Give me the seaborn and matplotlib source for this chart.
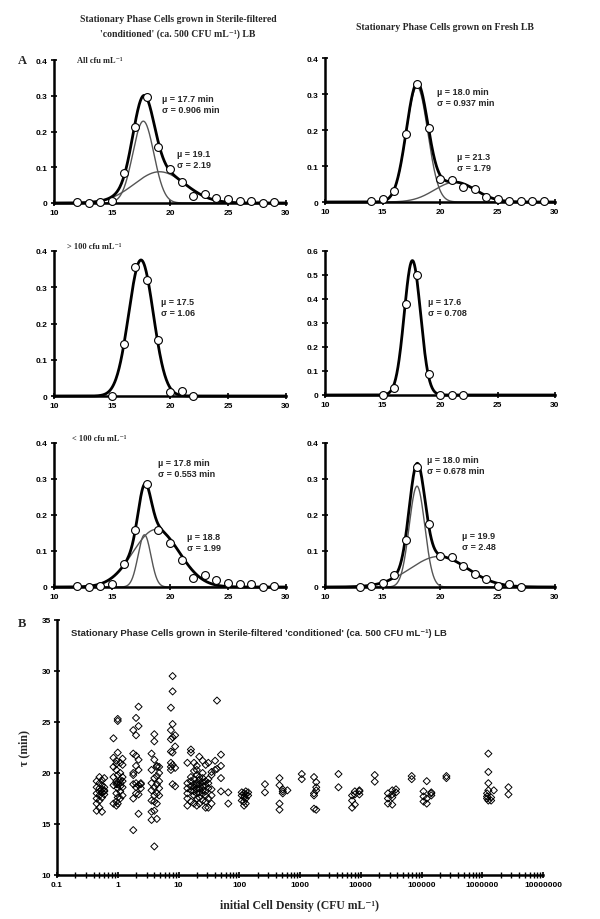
import numpy as np
import pandas as pd
import seaborn as sns
import matplotlib
matplotlib.use("Agg")
import matplotlib.pyplot as plt
from matplotlib.ticker import FixedLocator, FuncFormatter, LogLocator, NullFormatter

# ---------------- data: panel A (frequency distributions of lag time) ----------------
tau_bins_1 = [12, 13, 14, 15, 16, 17, 18, 19, 20, 21, 22, 23, 24, 25, 26, 27, 28, 29]
freq_1 = [0.003, 0.0, 0.003, 0.005, 0.085, 0.212, 0.296, 0.158, 0.095, 0.060, 0.020, 0.025,
          0.015, 0.010, 0.005, 0.005, 0.0, 0.003]
tau_bins_2 = [14, 15, 16, 17, 18, 19, 20, 21, 22, 23, 24, 25, 26, 27, 28, 29]
freq_2 = [0.003, 0.008, 0.030, 0.190, 0.327, 0.205, 0.065, 0.060, 0.042, 0.035, 0.013,
          0.008, 0.004, 0.002, 0.002, 0.002]
tau_bins_3 = [15, 16, 17, 18, 19, 20, 21, 22]
freq_3 = [0.0, 0.143, 0.357, 0.320, 0.155, 0.012, 0.013, 0.0]
tau_bins_4 = [15, 16, 17, 18, 19, 20, 21, 22]
freq_4 = [0.0, 0.028, 0.380, 0.500, 0.088, 0.0, 0.0, 0.0]
tau_bins_5 = [12, 13, 14, 15, 16, 17, 18, 19, 20, 21, 22, 23, 24, 25, 26, 27, 28, 29]
freq_5 = [0.003, 0.0, 0.003, 0.008, 0.063, 0.158, 0.285, 0.157, 0.122, 0.076, 0.025, 0.034,
          0.020, 0.012, 0.008, 0.008, 0.0, 0.003]
tau_bins_6 = [13, 14, 15, 16, 17, 18, 19, 20, 21, 22, 23, 24, 25, 26, 27]
freq_6 = [0.0, 0.002, 0.010, 0.032, 0.131, 0.333, 0.174, 0.086, 0.083, 0.058, 0.037,
          0.023, 0.004, 0.007, 0.0]

# fitted Gaussian components (mean, sd, weight)
fit_mu_1, fit_sd_1, fit_w_1 = [17.7, 19.1], [0.906, 2.19], [0.52, 0.48]
fit_mu_2, fit_sd_2, fit_w_2 = [18.0, 21.3], [0.937, 1.79], [0.753, 0.247]
fit_mu_3, fit_sd_3, fit_w_3 = [17.5], [1.06], [0.997]
fit_mu_4, fit_sd_4, fit_w_4 = [17.6], [0.708], [0.994]
fit_mu_5, fit_sd_5, fit_w_5 = [17.8, 18.8], [0.553, 1.99], [0.201, 0.798]
fit_mu_6, fit_sd_6, fit_w_6 = [18.0, 19.9], [0.678, 2.48], [0.476, 0.528]

labels_1 = ["\u00b5 = 17.7 min\n\u03c3 = 0.906 min", "\u00b5 = 19.1\n\u03c3 = 2.19"]
labels_2 = ["\u00b5 = 18.0 min\n\u03c3 = 0.937 min", "\u00b5 = 21.3\n\u03c3 = 1.79"]
labels_3 = ["\u00b5 = 17.5\n\u03c3 = 1.06"]
labels_4 = ["\u00b5 = 17.6\n\u03c3 = 0.708"]
labels_5 = ["\u00b5 = 17.8 min\n\u03c3 = 0.553 min", "\u00b5 = 18.8\n\u03c3 = 1.99"]
labels_6 = ["\u00b5 = 18.0 min\n\u03c3 = 0.678 min", "\u00b5 = 19.9\n\u03c3 = 2.48"]

subset_labels = ["All cfu mL\u207b\u00b9", "> 100 cfu mL\u207b\u00b9", "< 100 cfu mL\u207b\u00b9"]
col_titles = ["Stationary Phase Cells grown in Sterile-filtered\n'conditioned' (ca. 500 CFU mL\u207b\u00b9) LB",
              "Stationary Phase Cells grown on Fresh LB"]

# ---------------- data: panel B (lag time vs initial density) ----------------
density_groups = [0.45, 0.5, 0.55, 0.6, 0.85, 0.95, 1.0, 1.1, 1.2, 1.8, 2.0, 2.2, 2.4,
                  3.6, 4.0, 4.4, 4.8, 7.5, 8.0, 8.8, 14, 16, 18, 20, 22, 25, 28, 31, 35,
                  40, 43, 50, 66, 110, 120, 128, 140, 265, 460, 520, 620, 1070, 1700,
                  1850, 4300, 7200, 8000, 9500, 17000, 28000, 33000, 38000, 69000,
                  108000, 122000, 145000, 257000, 1.2e6, 1.26e6, 1.4e6, 1.55e6, 2.7e6]
tau_groups = [
    [16.3, 17.0, 17.5, 18.0, 18.6, 19.2],
    [16.6, 17.3, 17.8, 18.2, 18.5, 19.0, 19.6],
    [16.2, 17.6, 18.1, 18.4, 18.8, 19.3],
    [17.9, 18.3, 18.6, 19.5, 18.2],
    [17.0, 18.8, 19.6, 20.6, 21.5, 23.4],
    [16.8, 17.2, 18.0, 18.9, 19.2, 20.3, 20.9, 21.2],
    [17.0, 17.6, 18.5, 18.9, 19.1, 19.8, 22.0, 25.1, 25.3],
    [17.5, 18.2, 18.7, 19.0, 19.3, 20.0, 21.0],
    [17.8, 18.6, 19.2, 19.6, 20.8, 21.4],
    [14.4, 17.5, 18.9, 19.8, 20.0, 21.9, 24.2],
    [18.0, 18.6, 19.0, 20.7, 21.7, 23.7, 25.4],
    [16.0, 17.9, 18.8, 20.3, 21.3, 24.6, 26.5],
    [18.5, 18.9, 19.0],
    [15.4, 16.2, 17.3, 18.3, 19.0, 20.3, 21.9],
    [12.8, 16.3, 17.2, 17.8, 18.6, 19.5, 21.3, 23.1, 23.8],
    [15.5, 17.0, 18.0, 18.9, 19.7, 20.6, 20.7],
    [17.8, 18.5, 19.2, 20.0, 20.6],
    [20.3, 20.6, 21.0, 22.1, 23.3, 24.2, 26.4],
    [18.9, 20.8, 22.0, 23.5, 24.8, 28.0, 29.5],
    [18.7, 20.5, 22.6, 23.7],
    [16.8, 17.5, 18.0, 18.5, 19.0, 21.0],
    [17.2, 18.3, 18.7, 19.2, 19.6, 22.0, 22.3],
    [17.0, 17.8, 18.2, 18.6, 18.9, 19.4, 20.2, 21.0],
    [16.8, 17.5, 18.0, 18.4, 18.8, 19.0, 19.8, 20.3, 20.7],
    [17.0, 17.6, 18.1, 18.5, 18.9, 19.3, 19.6, 21.6],
    [17.3, 18.0, 18.3, 18.7, 19.1, 19.5, 20.0, 21.2],
    [16.6, 17.2, 17.8, 18.2, 18.8, 19.2, 20.8],
    [16.6, 17.5, 18.5, 19.0, 19.4, 21.0],
    [17.0, 17.8, 18.4, 19.8, 20.1],
    [20.3, 21.2],
    [27.1, 20.4],
    [18.2, 19.5, 20.7, 21.8],
    [17.0, 18.1],
    [17.3, 17.8, 18.1],
    [16.8, 17.2, 17.6, 18.0],
    [17.0, 17.5, 17.9, 18.2],
    [17.8, 18.1],
    [18.1, 18.9],
    [16.4, 17.0, 18.8, 19.5],
    [18.0, 18.4, 18.2],
    [18.3],
    [19.4, 19.9],
    [19.6, 18.0, 17.8, 16.5],
    [18.6, 18.3, 16.4, 19.1],
    [19.9, 18.6],
    [17.3, 16.6, 17.8],
    [17.9, 16.9, 18.2],
    [18.2, 18.3, 17.9],
    [19.8, 19.15],
    [18.0, 17.5, 17.0],
    [18.3, 17.9, 16.9, 17.6],
    [18.4, 18.1],
    [19.7, 19.4],
    [18.2, 17.7, 17.2],
    [19.2, 17.0, 17.5],
    [18.0, 17.8, 18.1],
    [19.7, 19.5],
    [18.0, 17.7, 17.5],
    [21.9, 20.1, 19.0, 18.3, 17.3],
    [17.6, 17.3],
    [18.3],
    [18.6, 17.9],
]
b_xticks = [0.1, 1, 10, 100, 1000, 10000, 100000, 1000000, 10000000]
b_xticklabels = ["0.1", "1", "10", "100", "1000", "10000", "100000", "1000000", "10000000"]
b_yticks = [10, 15, 20, 25, 30, 35]
b_title = "Stationary Phase Cells grown in Sterile-filtered 'conditioned' (ca. 500 CFU mL\u207b\u00b9) LB"
b_xlabel = "initial Cell Density (CFU mL\u207b\u00b9)"
b_ylabel = "\u03c4 (min)"

# ---------------- style ----------------
sns.set_style("ticks")
plt.rcParams["font.family"] = ["Liberation Sans", "DejaVu Sans"]
plt.rcParams["font.weight"] = "bold"
SERIF = ["Liberation Serif", "DejaVu Serif"]

fig = plt.figure(figsize=(6, 9.2), dpi=100)
W, H = 600.0, 920.0


def add_ax(x0, x1, y0, y1):
    return fig.add_axes([x0 / W, 1 - y1 / H, (x1 - x0) / W, (y1 - y0) / H])


def style_axes(ax):
    for s in ["top", "right"]:
        ax.spines[s].set_visible(False)
    for s in ["left", "bottom"]:
        ax.spines[s].set_linewidth(1.8)
        ax.spines[s].set_color("black")
    ax.tick_params(axis="both", which="both", direction="inout", length=5, width=1.2,
                   labelsize=6, pad=2, colors="black")
    for lab in ax.get_xticklabels() + ax.get_yticklabels():
        lab.set_fontweight("bold")


def gauss(x, mu, sd, w):
    return w / (sd * np.sqrt(2 * np.pi)) * np.exp(-0.5 * ((x - mu) / sd) ** 2)


panels = [
    dict(box=(54, 286, 61, 204), bins=tau_bins_1, freq=freq_1, mu=fit_mu_1, sd=fit_sd_1, w=fit_w_1,
         labels=labels_1, pos=[(19.3, 0.278), (20.6, 0.124)], ymax=0.4),
    dict(box=(325, 555, 59, 203), bins=tau_bins_2, freq=freq_2, mu=fit_mu_2, sd=fit_sd_2, w=fit_w_2,
         labels=labels_2, pos=[(19.7, 0.292), (21.45, 0.112)], ymax=0.4),
    dict(box=(54, 286, 252, 397), bins=tau_bins_3, freq=freq_3, mu=fit_mu_3, sd=fit_sd_3, w=fit_w_3,
         labels=labels_3, pos=[(19.2, 0.246)], ymax=0.4),
    dict(box=(325, 555, 252, 396), bins=tau_bins_4, freq=freq_4, mu=fit_mu_4, sd=fit_sd_4, w=fit_w_4,
         labels=labels_4, pos=[(19.0, 0.365)], ymax=0.6),
    dict(box=(54, 286, 444, 588), bins=tau_bins_5, freq=freq_5, mu=fit_mu_5, sd=fit_sd_5, w=fit_w_5,
         labels=labels_5, pos=[(19.0, 0.330), (21.45, 0.125)], ymax=0.4),
    dict(box=(325, 555, 444, 588), bins=tau_bins_6, freq=freq_6, mu=fit_mu_6, sd=fit_sd_6, w=fit_w_6,
         labels=labels_6, pos=[(18.85, 0.338), (21.9, 0.127)], ymax=0.4),
]

xgrid = np.linspace(10, 30, 600)
for i, p in enumerate(panels):
    ax = add_ax(*p["box"])
    total = np.zeros_like(xgrid)
    comps = []
    for mu, sd, w in zip(p["mu"], p["sd"], p["w"]):
        g = gauss(xgrid, mu, sd, w)
        comps.append(g)
        total = total + g
    if len(comps) > 1:
        for g in comps:
            sns.lineplot(x=xgrid, y=g, ax=ax, color="#555555", linewidth=1.0, clip_on=False)
    sns.lineplot(x=xgrid, y=total, ax=ax, color="black", linewidth=2.0, clip_on=False)
    df = pd.DataFrame({"tau": p["bins"], "freq": p["freq"]})
    sns.scatterplot(data=df, x="tau", y="freq", ax=ax, s=32, facecolor="white",
                    edgecolor="black", linewidth=0.8, clip_on=False, zorder=5)
    ax.set_xlim(10, 30)
    ax.set_ylim(0, p["ymax"])
    ax.xaxis.set_major_locator(FixedLocator([10, 15, 20, 25, 30]))
    ax.yaxis.set_major_locator(FixedLocator(np.round(np.arange(0, p["ymax"] + 0.001, 0.1), 1)))
    ax.yaxis.set_major_formatter(FuncFormatter(lambda v, _: "0" if abs(v) < 1e-9 else f"{v:.1f}"))
    ax.set_xlabel("")
    ax.set_ylabel("")
    style_axes(ax)
    for lab, (tx, ty) in zip(p["labels"], p["pos"]):
        ax.text(tx, ty, lab, fontsize=6.5, fontweight="bold", ha="left", va="center",
                linespacing=1.3)

# row labels and titles
fig.text(77 / W, 1 - 61 / H, subset_labels[0], family=SERIF, fontsize=6, fontweight="bold",
         ha="left", va="center")
fig.text(67 / W, 1 - 247 / H, subset_labels[1], family=SERIF, fontsize=6, fontweight="bold",
         ha="left", va="center")
fig.text(72 / W, 1 - 439 / H, subset_labels[2], family=SERIF, fontsize=6, fontweight="bold",
         ha="left", va="center")
fig.text(178 / W, 1 - 27 / H, col_titles[0], family=SERIF, fontsize=7, fontweight="bold",
         ha="center", va="center", linespacing=1.6)
fig.text(445 / W, 1 - 28 / H, col_titles[1], family=SERIF, fontsize=7, fontweight="bold",
         ha="center", va="center")
fig.text(22 / W, 1 - 61 / H, "A", family=SERIF, fontsize=9, fontweight="bold",
         ha="center", va="center")
fig.text(22 / W, 1 - 624 / H, "B", family=SERIF, fontsize=9, fontweight="bold",
         ha="center", va="center")

# ---------------- panel B ----------------
rows_x, rows_y = [], []
for d, taus in zip(density_groups, tau_groups):
    for t in taus:
        rows_x.append(d)
        rows_y.append(t)
dfb = pd.DataFrame({"density": rows_x, "tau": rows_y})

axb = add_ax(57, 543, 621, 876)
sns.scatterplot(data=dfb, x="density", y="tau", ax=axb, marker="D", s=13,
                facecolor="none", edgecolor="black", linewidth=0.7, clip_on=False)
axb.set_xscale("log")
axb.set_xlim(0.1, 1e7)
axb.set_ylim(10, 35)
axb.xaxis.set_major_locator(FixedLocator(b_xticks))
axb.set_xticklabels(b_xticklabels)
axb.xaxis.set_minor_locator(LogLocator(base=10, subs=np.arange(2, 10), numticks=100))
axb.xaxis.set_minor_formatter(NullFormatter())
axb.yaxis.set_major_locator(FixedLocator(b_yticks))
style_axes(axb)
axb.tick_params(axis="x", which="minor", direction="inout", length=5, width=1.0)
axb.set_xlabel(b_xlabel, family=SERIF, fontsize=8.5, fontweight="bold", labelpad=8)
axb.set_ylabel(b_ylabel, family=SERIF, fontsize=8.5, fontweight="bold", labelpad=8)
axb.text(0.029, 0.95, b_title, transform=axb.transAxes, fontsize=6.8, fontweight="bold",
         ha="left", va="center")

fig.savefig("out.png", dpi=100)
